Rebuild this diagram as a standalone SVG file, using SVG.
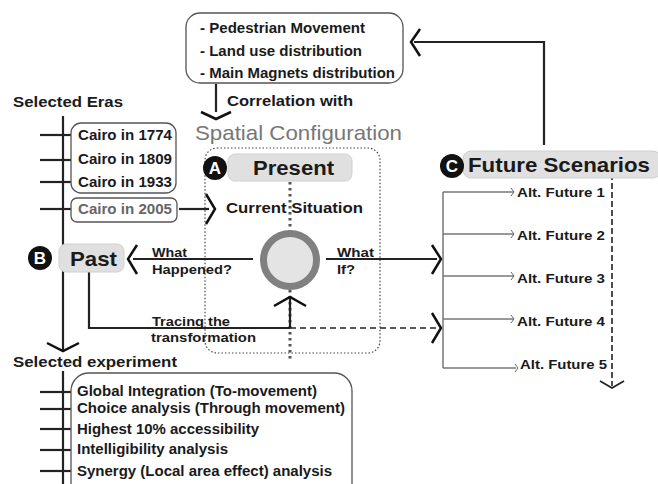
<svg xmlns="http://www.w3.org/2000/svg" width="658" height="484" viewBox="0 0 658 484">
<style>
text{font-family:"Liberation Sans",Arial,sans-serif;font-weight:bold;fill:#1a1a1a}
.s13{font-size:14px}
.s12{font-size:13px}
.s14{font-size:15px}
.big{font-size:20px}
.box{fill:#fff;stroke:#555;stroke-width:1.3}
.pill{fill:#e0e0e0;stroke:#d0d0d0;stroke-width:1}
.ln{stroke:#222;stroke-width:2.2;fill:none}
.thin{stroke:#777;stroke-width:1.5;fill:none}
.chev{stroke:#111;stroke-width:2.5;fill:none}
.badge{fill:#111}
.bt{fill:#fff;font-size:17px;text-anchor:middle}
</style>
<g id="connectors">
  <polyline class="ln" points="544,145 544,42 414,42"/>
  <polyline class="chev" points="420,29 411,42 420,56"/>
  <line class="ln" x1="216" y1="84" x2="216" y2="112"/>
  <polyline class="chev" points="201,112 216,119 231,112"/>
  <line class="ln" x1="63" y1="116" x2="63" y2="351"/>
  <polyline class="chev" points="47,343 63,351 79,343"/>
  <line class="ln" x1="63" y1="371" x2="63" y2="484"/>
  <g class="ln">
    <line x1="40" y1="135" x2="72" y2="135"/>
    <line x1="40" y1="160" x2="72" y2="160"/>
    <line x1="40" y1="182" x2="72" y2="182"/>
    <line x1="40" y1="209" x2="72" y2="209"/>
    <line x1="40" y1="392" x2="72" y2="392"/>
    <line x1="40" y1="409" x2="72" y2="409"/>
    <line x1="40" y1="429" x2="72" y2="429"/>
    <line x1="40" y1="450" x2="72" y2="450"/>
    <line x1="40" y1="471" x2="72" y2="471"/>
  </g>
  <line class="ln" x1="179" y1="209" x2="209" y2="209"/>
  <polyline class="chev" points="206,194 215,209 206,224"/>
  <rect x="205" y="148" width="175" height="205" rx="12" fill="none" stroke="#444" stroke-width="1.2" stroke-dasharray="1.5,2"/>
  <line x1="290" y1="182" x2="290" y2="360" stroke="#555" stroke-width="3" stroke-dasharray="2.5,3.5"/>
  <line class="ln" x1="133" y1="259" x2="253" y2="259"/>
  <polyline class="chev" points="137,245 128,259 137,274"/>
  <line class="ln" x1="326" y1="259" x2="437" y2="259"/>
  <polyline class="chev" points="432,245 441,259 432,274"/>
  <polyline class="ln" points="89,272 89,328 290,328"/>
  <line x1="290" y1="328" x2="436" y2="328" stroke="#222" stroke-width="1.6" stroke-dasharray="6,4"/>
  <polyline class="chev" points="432,313 441,328 432,343"/>
  <line class="ln" x1="290" y1="298" x2="290" y2="328"/>
  <polyline class="chev" points="274,306 290,297 306,306"/>
  <line class="thin" x1="443" y1="192" x2="443" y2="368"/>
  <g class="thin">
    <line x1="443" y1="192" x2="514" y2="192"/>
    <line x1="443" y1="234" x2="514" y2="234"/>
    <line x1="443" y1="276" x2="514" y2="276"/>
    <line x1="443" y1="319" x2="514" y2="319"/>
    <line x1="443" y1="368" x2="516" y2="368"/>
  </g>
  <g fill="none" stroke="#666" stroke-width="1">
    <polyline points="511,188 514,192 511,196"/>
    <polyline points="511,230 514,234 511,238"/>
    <polyline points="511,272 514,276 511,280"/>
    <polyline points="511,315 514,319 511,323"/>
    <polyline points="515,364 518,368 515,372"/>
  </g>
  <line x1="612" y1="156" x2="612" y2="386" stroke="#222" stroke-width="1.6" stroke-dasharray="6,3"/>
  <polyline fill="none" stroke="#222" stroke-width="1.8" points="600,381 612,388 624,381"/>
</g>
<g id="top-list">
  <rect class="box" x="186" y="13" width="217" height="70" rx="14"/>
  <text class="s13" x="200" y="33" textLength="165" lengthAdjust="spacingAndGlyphs">- Pedestrian Movement</text>
  <text class="s13" x="200" y="56" textLength="162" lengthAdjust="spacingAndGlyphs">- Land use distribution</text>
  <text class="s13" x="200" y="78" textLength="195" lengthAdjust="spacingAndGlyphs">- Main Magnets distribution</text>
</g>
<g id="correlation"><text class="s14" x="227" y="106" textLength="126" lengthAdjust="spacingAndGlyphs">Correlation with</text></g>
<g id="selected-eras"><text class="s14" x="13" y="107" textLength="110" lengthAdjust="spacingAndGlyphs">Selected Eras</text></g>
<g id="spatial-config"><text x="195" y="140" textLength="207" lengthAdjust="spacingAndGlyphs" style="font-weight:normal;font-size:21px;fill:#777">Spatial Configuration</text></g>
<g id="eras">
  <rect class="box" x="71" y="123" width="105" height="70" rx="10"/>
  <text class="s13" x="78" y="140" textLength="94" lengthAdjust="spacingAndGlyphs">Cairo in 1774</text>
  <text class="s13" x="78" y="164" textLength="94" lengthAdjust="spacingAndGlyphs">Cairo in 1809</text>
  <text class="s13" x="78" y="187" textLength="94" lengthAdjust="spacingAndGlyphs">Cairo in 1933</text>
</g>
<g id="era-2005">
  <rect class="box" x="71" y="198" width="106" height="24" rx="6" stroke="#777"/>
  <text class="s13" x="78" y="214" textLength="94" lengthAdjust="spacingAndGlyphs" style="fill:#666">Cairo in 2005</text>
</g>
<g id="present">
  <rect class="pill" x="228" y="154" width="124" height="27" rx="7"/>
  <text class="big" x="253" y="175" textLength="81" lengthAdjust="spacingAndGlyphs">Present</text>
  <circle class="badge" cx="215" cy="168" r="12"/>
  <text class="bt" x="215" y="174">A</text>
</g>
<g id="current"><text class="s14" x="226" y="213" textLength="137" lengthAdjust="spacingAndGlyphs">Current Situation</text></g>
<g id="past">
  <rect class="pill" x="59" y="244" width="65" height="28" rx="7"/>
  <text class="big" x="70" y="266" textLength="47" lengthAdjust="spacingAndGlyphs" style="font-size:21px">Past</text>
  <circle class="badge" cx="40" cy="258" r="12"/>
  <text class="bt" x="40" y="264">B</text>
</g>
<g id="what-happened">
  <text class="s12" x="152" y="257" textLength="35" lengthAdjust="spacingAndGlyphs">What</text>
  <text class="s12" x="152" y="274" textLength="80" lengthAdjust="spacingAndGlyphs">Happened?</text>
</g>
<g id="center">
  <circle cx="290" cy="260" r="26.5" fill="#e4e4e4" stroke="#808080" stroke-width="7"/>
</g>
<g id="what-if">
  <text class="s12" x="337" y="257" textLength="37" lengthAdjust="spacingAndGlyphs">What</text>
  <text class="s12" x="337" y="274" textLength="18" lengthAdjust="spacingAndGlyphs">If?</text>
</g>
<g id="tracing">
  <text class="s12" x="152" y="326" textLength="78" lengthAdjust="spacingAndGlyphs">Tracing the</text>
  <text class="s12" x="151" y="342" textLength="105" lengthAdjust="spacingAndGlyphs">transformation</text>
</g>
<g id="future">
  <rect class="pill" x="463" y="151" width="198" height="27" rx="8"/>
  <text x="468" y="172" textLength="182" lengthAdjust="spacingAndGlyphs" style="font-size:21px">Future Scenarios</text>
  <circle class="badge" cx="452" cy="166" r="12"/>
  <text class="bt" x="452" y="172">C</text>
</g>
<g id="alt-futures">
  <text class="s12" x="517" y="197" textLength="88" lengthAdjust="spacingAndGlyphs">Alt. Future 1</text>
  <text class="s12" x="517" y="240" textLength="88" lengthAdjust="spacingAndGlyphs">Alt. Future 2</text>
  <text class="s12" x="517" y="283" textLength="88" lengthAdjust="spacingAndGlyphs">Alt. Future 3</text>
  <text class="s12" x="517" y="326" textLength="88" lengthAdjust="spacingAndGlyphs">Alt. Future 4</text>
  <text class="s12" x="520" y="369" textLength="87" lengthAdjust="spacingAndGlyphs">Alt. Future 5</text>
</g>
<g id="selected-experiment"><text class="s14" x="13" y="367" textLength="164" lengthAdjust="spacingAndGlyphs">Selected experiment</text></g>
<g id="experiments">
  <rect class="box" x="71" y="373" width="281" height="130" rx="18"/>
  <text class="s13" x="77" y="396" textLength="240" lengthAdjust="spacingAndGlyphs">Global Integration (To-movement)</text>
  <text class="s13" x="77" y="413" textLength="268" lengthAdjust="spacingAndGlyphs">Choice analysis (Through movement)</text>
  <text class="s13" x="77" y="434" textLength="182" lengthAdjust="spacingAndGlyphs">Highest 10% accessibility</text>
  <text class="s13" x="77" y="454" textLength="151" lengthAdjust="spacingAndGlyphs">Intelligibility analysis</text>
  <text class="s13" x="77" y="476" textLength="255" lengthAdjust="spacingAndGlyphs">Synergy (Local area effect) analysis</text>
</g>
</svg>
